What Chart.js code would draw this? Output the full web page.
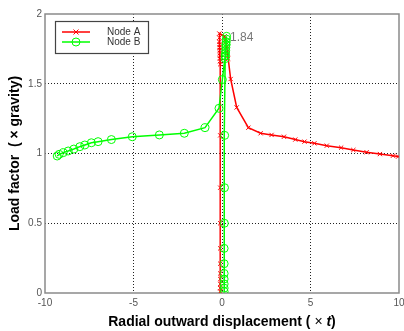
<!DOCTYPE html>
<html>
<head>
<meta charset="utf-8">
<script src="https://cdn.jsdelivr.net/npm/chart.js@4"></script>
<style>
    html, body { margin: 0; padding: 0; background: #fff; overflow: hidden; }
    #wrap { width: 404px; height: 331px; }
</style>
</head>
<body>
<div id="wrap"><canvas id="loadChart" width="404" height="331"></canvas></div>
<script>
// ---------------------------
// Data
// ---------------------------
const xTicks = [-10, -5, 0, 5, 10];
const yTicks = [0, 0.5, 1, 1.5, 2];

// Node A: pre-buckling (vertical) then post-buckling to the right
const nodeAX = [-0.1, -0.1, -0.1, -0.1, -0.1, -0.1, -0.1, -0.1, -0.1, -0.1,
    -0.1, -0.11, -0.12, -0.12, -0.13, -0.13, -0.14, -0.14, -0.15, -0.15, -0.15,
    0.15, 0.22, 0.27, 0.31, 0.35, 0.49, 0.83, 1.49, 2.18, 2.8, 3.5, 4.14, 4.66,
    5.22, 5.92, 6.73, 7.42, 8.17, 8.92, 9.66, 9.95];
const nodeAY = [0.01, 0.035, 0.065, 0.10, 0.14, 0.21, 0.32, 0.50, 0.755, 1.13,
    1.64, 1.66, 1.68, 1.70, 1.72, 1.74, 1.76, 1.78, 1.80, 1.83, 1.86,
    1.84, 1.80, 1.76, 1.72, 1.68, 1.534, 1.33, 1.185, 1.145, 1.133, 1.12, 1.10, 1.085,
    1.073, 1.056, 1.042, 1.025, 1.009, 0.996, 0.984, 0.978];

// Node B: pre-buckling (vertical) then post-buckling to the left
const nodeBX = [0.12, 0.12, 0.12, 0.12, 0.12, 0.12, 0.12, 0.13, 0.14, 0.15,
    0.18, 0.19, 0.2, 0.21, 0.22, 0.23, 0.24, 0.25, 0.26,
    0.22, 0.18, 0.02, -0.17, -0.96, -2.13, -3.54, -5.07, -6.25, -7.0, -7.38,
    -7.75, -8.03, -8.37, -8.69, -8.97, -9.2, -9.31];
const nodeBY = [0.01, 0.035, 0.065, 0.10, 0.14, 0.21, 0.32, 0.50, 0.755, 1.13,
    1.68, 1.70, 1.72, 1.74, 1.76, 1.78, 1.80, 1.82, 1.84,
    1.78, 1.70, 1.53, 1.324, 1.185, 1.145, 1.133, 1.12, 1.10, 1.085, 1.077,
    1.061, 1.049, 1.032, 1.018, 1.006, 0.994, 0.982];

const peakLabel = "1.84";
const peakX = 0.45;
const peakY = 1.84;

const FONT = "'Liberation Sans', Arial, sans-serif";

const toPoints = (xs, ys) => xs.map((x, i) => ({ x: x, y: ys[i] }));

// ---------------------------
// Plugins: frame, legend, annotation, x title
// ---------------------------
const framePlugin = {
    id: "frame",
    beforeDatasetsDraw(chart) {
        const { ctx, chartArea: a } = chart;
        ctx.save();
        ctx.strokeStyle = "#8a8a8a";
        ctx.lineWidth = 1.5;
        ctx.strokeRect(a.left, a.top, a.right - a.left, a.bottom - a.top);
        ctx.restore();
    }
};

const legendPlugin = {
    id: "boxLegend",
    afterDatasetsDraw(chart) {
        const { ctx } = chart;
        const bx = 55.5, by = 21.5, bw = 93, bh = 32;
        ctx.save();
        ctx.fillStyle = "#fff";
        ctx.fillRect(bx, by, bw, bh);
        ctx.strokeStyle = "#444";
        ctx.lineWidth = 1.2;
        ctx.strokeRect(bx, by, bw, bh);

        chart.data.datasets.forEach((ds, i) => {
            const y = by + 10.5 + i * 10;
            ctx.strokeStyle = ds.borderColor;
            ctx.lineWidth = 1.5;
            ctx.beginPath();
            ctx.moveTo(62, y);
            ctx.lineTo(90, y);
            ctx.stroke();
            ctx.lineWidth = 1;
            ctx.beginPath();
            if (ds.pointStyle === "circle") {
                ctx.arc(76, y, 4, 0, Math.PI * 2);
            } else {
                ctx.moveTo(73.5, y - 2.5); ctx.lineTo(78.5, y + 2.5);
                ctx.moveTo(73.5, y + 2.5); ctx.lineTo(78.5, y - 2.5);
            }
            ctx.stroke();

            ctx.fillStyle = "#333";
            ctx.font = "10px " + FONT;
            ctx.textAlign = "left";
            ctx.textBaseline = "middle";
            ctx.fillText(ds.label, 107, y);
        });
        ctx.restore();
    }
};

const annotationPlugin = {
    id: "peakNote",
    afterDatasetsDraw(chart) {
        const { ctx, scales } = chart;
        ctx.save();
        ctx.fillStyle = "#777";
        ctx.font = "12px " + FONT;
        ctx.textAlign = "left";
        ctx.textBaseline = "middle";
        ctx.fillText(peakLabel, scales.x.getPixelForValue(peakX), scales.y.getPixelForValue(peakY) + 1);
        ctx.restore();
    }
};

const xTitlePlugin = {
    id: "xTitle",
    afterDraw(chart) {
        const { ctx, chartArea: a } = chart;
        const parts = [
            ["Radial outward displacement ( ", "bold 14px " + FONT],
            ["\u00d7", "14px " + FONT],
            [" t", "italic bold 14px " + FONT],
            [")", "bold 14px " + FONT]
        ];
        ctx.save();
        let total = 0;
        parts.forEach(p => { ctx.font = p[1]; total += ctx.measureText(p[0]).width; });
        let x = (a.left + a.right) / 2 - total / 2;
        ctx.fillStyle = "#000";
        ctx.textAlign = "left";
        ctx.textBaseline = "middle";
        parts.forEach(p => {
            ctx.font = p[1];
            ctx.fillText(p[0], x, 322);
            x += ctx.measureText(p[0]).width;
        });
        ctx.restore();
    }
};

// ---------------------------
// Chart
// ---------------------------
function gridColor(ctx) {
    const n = ctx.scale.ticks.length;
    if (ctx.index === 0 || ctx.index === n - 1) return "rgba(0,0,0,0)";
    return "#222";
}

function renderChart() {
    const ctx = document.getElementById("loadChart").getContext("2d");

    window.loadChart = new Chart(ctx, {
        type: "scatter",
        data: {
            datasets: [{
                label: "Node A",
                data: toPoints(nodeAX, nodeAY),
                showLine: true,
                borderColor: "#ff0000",
                backgroundColor: "#ff0000",
                borderWidth: 1.5,
                pointStyle: "crossRot",
                pointRadius: 3,
                pointBorderWidth: 1,
                order: 1
            }, {
                label: "Node B",
                data: toPoints(nodeBX, nodeBY),
                showLine: true,
                borderColor: "#00ff00",
                backgroundColor: "rgba(0,0,0,0)",
                borderWidth: 1.5,
                pointStyle: "circle",
                pointRadius: 4,
                pointBorderWidth: 1,
                order: 0
            }]
        },
        options: {
            responsive: false,
            animation: false,
            layout: { padding: { top: 14, right: 3, bottom: 0, left: 0 } },
            plugins: {
                legend: { display: false },
                tooltip: { enabled: false }
            },
            scales: {
                x: {
                    type: "linear",
                    min: -10,
                    max: 10,
                    afterBuildTicks: s => { s.ticks = xTicks.map(v => ({ value: v })); },
                    afterFit: s => { s.height = 38; s.paddingLeft = 0; s.paddingRight = 0; },
                    border: { display: false, dash: [1, 2] },
                    grid: { color: gridColor, lineWidth: 1, drawTicks: false },
                    ticks: { color: "#555", font: { family: FONT, size: 10 }, padding: 4, callback: v => String(v) }
                },
                y: {
                    type: "linear",
                    min: 0,
                    max: 2,
                    afterBuildTicks: s => { s.ticks = yTicks.map(v => ({ value: v })); },
                    afterFit: s => { s.width = 45; s.paddingTop = 0; s.paddingBottom = 0; },
                    border: { display: false, dash: [1, 2] },
                    grid: { color: gridColor, lineWidth: 1, drawTicks: false },
                    ticks: { color: "#555", font: { family: FONT, size: 10 }, padding: 3, callback: v => String(v) },
                    title: {
                        display: true,
                        text: "Load factor  ( \u00d7 gravity)",
                        color: "#000",
                        font: { family: FONT, size: 14, weight: "bold" },
                        padding: { top: 7, bottom: 0 }
                    }
                }
            }
        },
        plugins: [framePlugin, legendPlugin, annotationPlugin, xTitlePlugin]
    });
}

renderChart();
</script>
</body>
</html>
